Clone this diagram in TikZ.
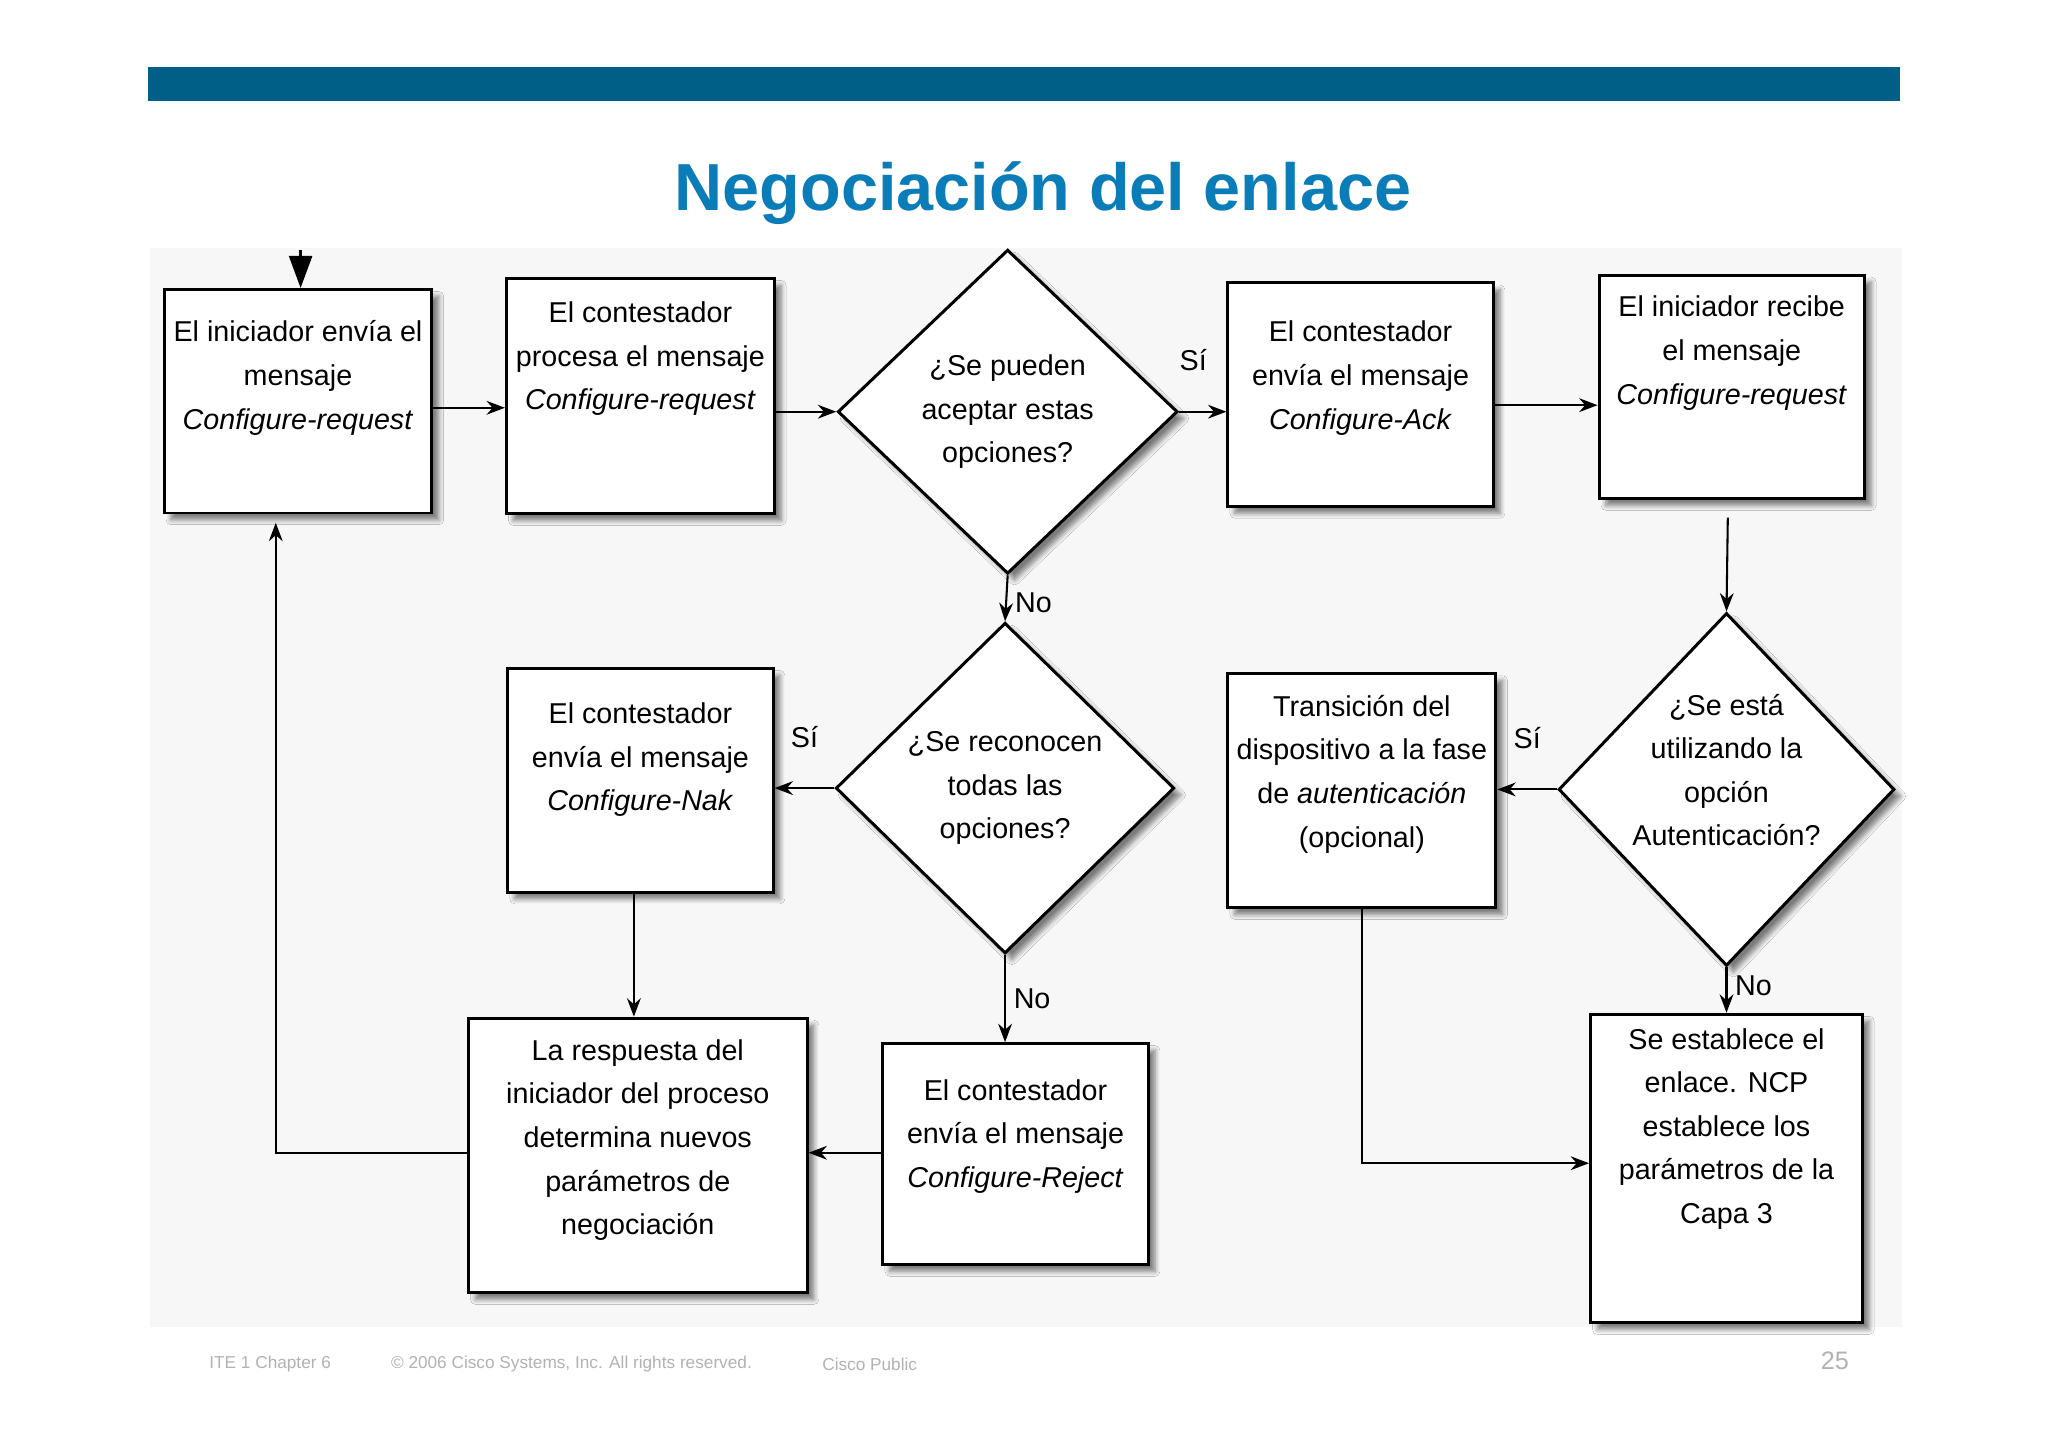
\documentclass[tikz,border=0pt]{standalone}
\usepackage{fontspec}
\setmainfont{Liberation Sans}
\usetikzlibrary{shapes.geometric,arrows.meta,shadows.blur}
\definecolor{bar}{HTML}{005F87}
\definecolor{ttl}{HTML}{0A7DB8}
\begin{document}
\begin{tikzpicture}[x=0.02cm,y=-0.02cm,
  sh/.style={blur shadow={shadow xshift=3pt,shadow yshift=-3pt,shadow blur steps=6,shadow opacity=50}},
  bx/.style={draw,line width=1.3pt,fill=white,sh,align=center,font=\fontsize{12.5}{19}\selectfont,inner sep=0pt},
  dm/.style={draw,line width=1.3pt,fill=white,sh,diamond,align=center,inner sep=0pt,font=\fontsize{12.5}{19}\selectfont},
  ar/.style={-{Stealth[length=8pt,width=6pt]},line width=0.9pt},
  lb/.style={font=\fontsize{12.5}{15}\selectfont}]
\useasboundingbox (0,0) rectangle (1567,1107);
\fill[white] (0,0) rectangle (1567,1107);
\fill[black!3] (115,190) rectangle (1455,1015);
\fill[bar] (113,51) rectangle (1454,77);
\node[font=\bfseries\fontsize{29}{33}\selectfont,text=ttl] (title) at (798,148) {Negociación del enlace};
% boxes
\node[bx,minimum width=205*0.02cm,minimum height=171*0.02cm] (A) at (228,307) {El iniciador envía el\\mensaje\\\textit{Configure-request}\\[4pt]};
\node[bx,minimum width=205*0.02cm,minimum height=180*0.02cm] (B) at (490,303) {El contestador\\procesa el mensaje\\\textit{Configure-request}\\[16pt]};
\node[dm,minimum width=260*0.02cm,minimum height=248*0.02cm] (D1) at (771,315) {¿Se pueden\\aceptar estas\\opciones?};
\node[bx,minimum width=203*0.02cm,minimum height=171*0.02cm] (C) at (1041,302) {El contestador\\envía el mensaje\\\textit{Configure-Ack}\\[-2pt]};
\node[bx,minimum width=203*0.02cm,minimum height=171*0.02cm] (E) at (1325,296) {El iniciador recibe\\el mensaje\\\textit{Configure-request}\\[13pt]};
\node[dm,minimum width=259*0.02cm,minimum height=253*0.02cm] (D2) at (769,603) {¿Se reconocen\\todas las\\opciones?};
\node[bx,minimum width=203*0.02cm,minimum height=171*0.02cm] (F) at (490,597) {El contestador\\envía el mensaje\\\textit{Configure-Nak}\\[1.5pt]};
\node[dm,inner sep=-7pt,minimum width=257*0.02cm,minimum height=270*0.02cm] (D3) at (1321,604) {¿Se está\\utilizando la\\opción\\Autenticación?\\[-2pt]};
\node[bx,minimum width=205*0.02cm,minimum height=179*0.02cm] (G) at (1042,605) {Transición del\\dispositivo a la fase\\de \textit{autenticación}\\(opcional)\\[-2pt]};
\node[bx,minimum width=259*0.02cm,minimum height=210*0.02cm] (H) at (488,884) {La respuesta del\\iniciador del proceso\\determina nuevos\\parámetros de\\negociación\\[-3pt]};
\node[bx,minimum width=203*0.02cm,minimum height=169*0.02cm] (I) at (777,883) {El contestador\\envía el mensaje\\\textit{Configure-Reject}\\[-1pt]};
\node[bx,minimum width=208*0.02cm,minimum height=236*0.02cm] (J) at (1321,894) {Se establece el\\enlace. NCP\\establece los\\parámetros de la\\Capa 3\\[18pt]};
% arrows
\coordinate (top) at (230,191);
\draw[-{Triangle[length=14pt,width=10pt]},line width=1.2pt] (top) -- (A.north-|top);
\draw[ar] (A.east|-0,312) -- (B.west|-0,312);
\draw[ar] (B.east|-D1) -- (D1.west);
\draw[ar] (D1.east) -- node[lb,above,pos=0.3,yshift=14pt]{Sí} (C.west|-D1);
\draw[ar] (C.east|-0,310) -- (E.west|-0,310);
\draw[ar] (1322,396) -- (D3.north);
\draw[ar] (D1.south) -- node[lb,right,yshift=-2pt]{No} (D2.north);
\draw[ar] (D2.west) -- node[lb,above,yshift=14pt]{Sí} (F.east|-D2);
\draw[ar] (D3.west) -- node[lb,above,yshift=14pt]{Sí} (G.east|-D3);
\draw[ar] (D3.south) -- node[lb,right,pos=0.4]{No} (J.north);
\draw[ar] (485,0|-F.south) -- (485,0|-H.north);
\draw[ar] (D2.south) -- node[lb,right,pos=0.5]{No} (I.north-|D2);
\draw[ar] (I.west|-0,882) -- (H.east|-0,882);
\draw[ar] (H.west|-0,882) -- (211,882) -- (211,400);
\draw[ar] (G.south) -- (1042,890) -- (J.west|-0,890);
% footer
\begin{scope}[every node/.style={text=black!30,font=\fontsize{7.5}{9}\selectfont,anchor=west}]
\node (f1) at (154,1044) {ITE 1 Chapter 6};
\node (f2) at (293,1044) {© 2006 Cisco Systems, Inc. All rights reserved.};
\node (f3) at (623,1044) {Cisco Public};
\node[font=\fontsize{11}{12}\selectfont] (f4) at (1387,1041) {25};
\end{scope}
\end{tikzpicture}
\end{document}
